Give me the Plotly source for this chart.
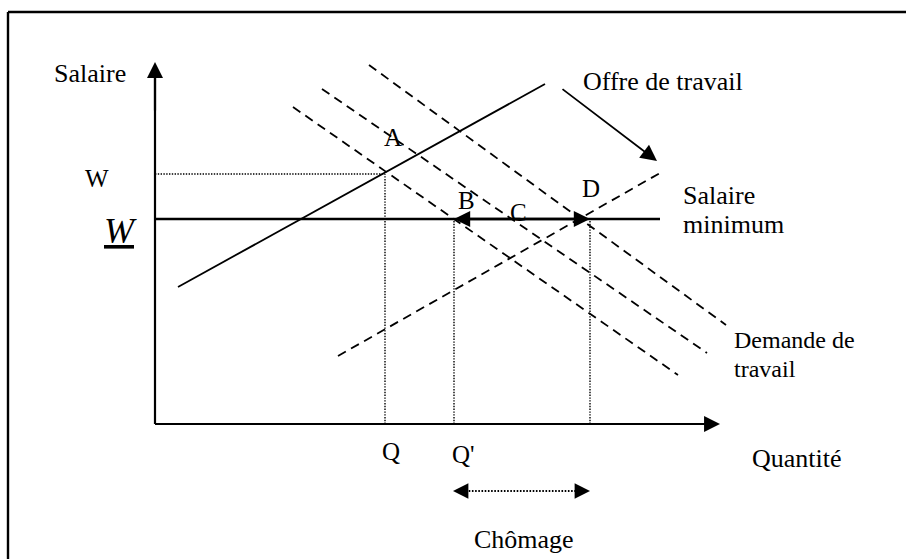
import plotly.graph_objects as go

# ---------------- data (diagram units: origin = axes corner) ----------------
axis_q_end = 113.0          # tip of the quantity axis
axis_w_end = 72.4           # tip of the wage axis

supply_q = [4.6, 78.0]      # Offre de travail (solid)
supply_w = [27.4, 68.0]
supply2_q = [36.6, 101.0]   # shifted supply (dashed)
supply2_w = [13.6, 50.2]

demand1_q = [27.6, 104.6]   # three labour-demand curves (dashed)
demand1_w = [63.4, 9.8]
demand2_q = [33.4, 110.4]
demand2_w = [67.0, 14.2]
demand3_q = [42.8, 114.2]
demand3_w = [71.8, 19.8]

min_wage = 41.0             # Salaire minimum level
min_wage_end = 101.0
w_eq = 50.0                 # market wage w
q_eq = 46.0                 # Q
q_prime = 59.8              # Q'
q_d = 87.0                  # quantity at D
q_d_arrow = 87.0
chomage_level = -13.4
chomage_from = 59.6
chomage_to = 87.0

offre_arrow_tail = (81.2, 67.2)
offre_arrow_tip = (100.4, 52.6)

border_top = 82.4
border_left = -29.4
x_range = [-31.0, 150.2]
y_range = [-27.0, 84.8]

# labels: (text, x, y, anchor, size)
labels = [
    ("Salaire", -13.0, 70.2, "center", 26),
    ("W", -11.7, 49.2, "center", 25),
    ("A", 47.6, 57.4, "center", 25),
    ("B", 62.2, 44.8, "center", 25),
    ("C", 72.6, 42.4, "center", 25),
    ("D", 87.2, 47.2, "center", 25),
    ("Q", 47.2, -5.4, "center", 25),
    ("Q'", 59.0, -6.0, "left", 25),
    ("Quantité", 119.0, -6.8, "left", 26),
    ("Chômage", 73.8, -23.0, "center", 26),
    ("Offre de travail", 85.2, 68.6, "left", 26),
    ("Salaire", 105.2, 45.8, "left", 26),
    ("minimum", 105.2, 40.0, "left", 26),
    ("Demande de", 115.4, 16.8, "left", 24),
    ("travail", 115.4, 11.0, "left", 24),
]
min_wage_label = ("W", -7.0, 38.6)

FONT = "Liberation Serif, Times New Roman, serif"
BLACK = "#000000"
DASH = "9px,6px"
DOT = "1.4px,1.4px"

fig = go.Figure()


def add_line(xs, ys, width=1.5, dash="solid"):
    fig.add_trace(go.Scatter(x=xs, y=ys, mode="lines",
                             line=dict(color=BLACK, width=width, dash=dash),
                             hoverinfo="skip", showlegend=False))


# border (top and left edges of the frame)
add_line([border_left, x_range[1]], [border_top, border_top], width=2.4)
add_line([border_left, border_left], [y_range[0], border_top], width=2.4)

# axes
add_line([0, axis_q_end - 2], [0, 0], width=2.2)
add_line([0, 0], [0, axis_w_end - 2], width=2.2)

# dotted guides
add_line([0, q_eq], [w_eq, w_eq], width=1.4, dash=DOT)
add_line([q_eq, q_eq], [0, w_eq], width=1.4, dash=DOT)
add_line([q_prime, q_prime], [0, min_wage], width=1.4, dash=DOT)
add_line([q_d, q_d], [0, min_wage], width=1.4, dash=DOT)

# demand curves
add_line(demand1_q, demand1_w, width=1.8, dash=DASH)
add_line(demand2_q, demand2_w, width=1.8, dash=DASH)
add_line(demand3_q, demand3_w, width=1.8, dash=DASH)

# supply curves
add_line(supply_q, supply_w, width=1.8)
add_line(supply2_q, supply2_w, width=1.8, dash=DASH)

# minimum wage
add_line([0, min_wage_end], [min_wage, min_wage], width=2.4)

# chômage dotted span
add_line([chomage_from + 2.5, chomage_to - 2.5], [chomage_level, chomage_level],
         width=1.9, dash="1.6px,1.6px")

annotations = []


def arrow(tip, tail, width, size):
    annotations.append(dict(
        x=tip[0], y=tip[1], ax=tail[0], ay=tail[1],
        xref="x", yref="y", axref="x", ayref="y",
        text="", showarrow=True, arrowhead=2, arrowsize=size,
        arrowwidth=width, arrowcolor=BLACK, standoff=0, startstandoff=0))


arrow((axis_q_end, 0), (axis_q_end - 10, 0), 2.2, 1.45)
arrow((0, axis_w_end), (0, axis_w_end - 10), 2.2, 1.45)
mid = (q_prime + q_d_arrow) / 2
arrow((q_prime, min_wage), (mid, min_wage), 2.4, 1.35)
arrow((q_d_arrow, min_wage), (mid, min_wage), 2.4, 1.35)
arrow(offre_arrow_tip, offre_arrow_tail, 1.8, 1.8)
arrow((chomage_from, chomage_level), (chomage_from + 3.0, chomage_level), 2.2, 1.4)
arrow((chomage_to, chomage_level), (chomage_to - 3.0, chomage_level), 2.2, 1.4)

for text, x, y, anchor, size in labels:
    annotations.append(dict(x=x, y=y, xref="x", yref="y", text=text,
                            showarrow=False, xanchor=anchor, yanchor="middle",
                            font=dict(family=FONT, size=size, color=BLACK)))

annotations.append(dict(x=min_wage_label[1], y=min_wage_label[2], xref="x", yref="y",
                        text=min_wage_label[0], showarrow=False,
                        xanchor="center", yanchor="middle",
                        font=dict(family=FONT, size=36, color=BLACK,
                                  style="italic", lineposition="under")))

fig.update_layout(
    width=906, height=559, autosize=False,
    margin=dict(l=0, r=0, t=0, b=0, pad=0),
    paper_bgcolor="white", plot_bgcolor="white",
    showlegend=False,
    xaxis=dict(range=x_range, visible=False, fixedrange=True),
    yaxis=dict(range=y_range, visible=False, fixedrange=True),
    annotations=annotations,
)

fig.write_html("out.html", config={"displayModeBar": False},
               post_script="document.body.style.margin='0';")
